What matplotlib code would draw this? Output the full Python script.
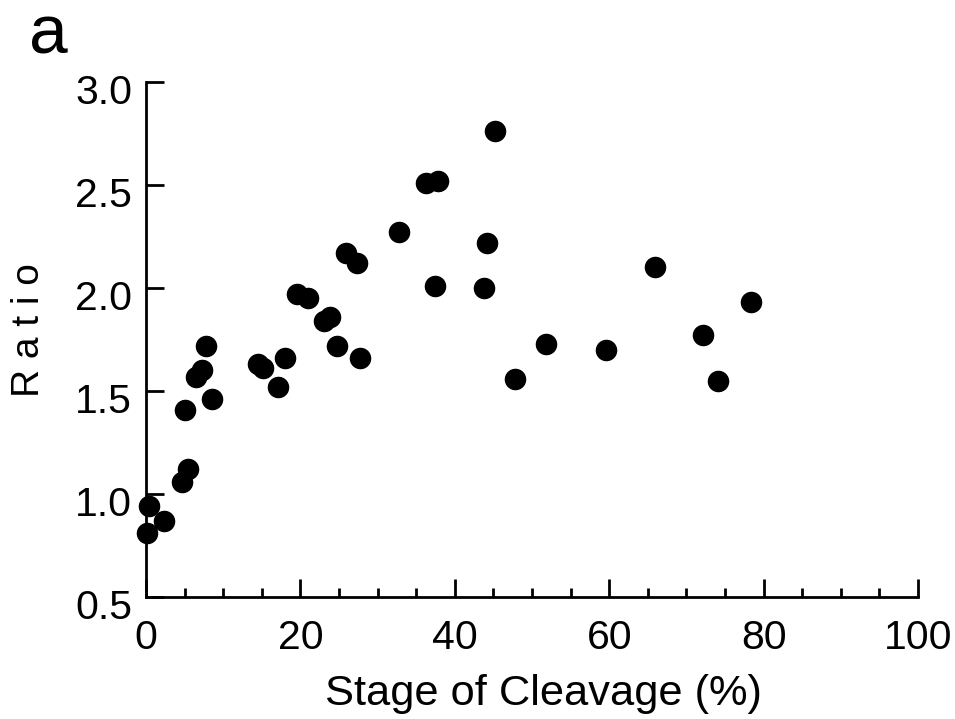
import matplotlib
matplotlib.use("Agg")
import matplotlib.pyplot as plt
import matplotlib.transforms as mtransforms
from matplotlib.ticker import MultipleLocator

plt.rcParams['font.family'] = ['Liberation Sans', 'DejaVu Sans']

stage = [0.1, 0.4, 2.3, 4.6, 5.4, 5.1, 6.5, 7.3, 7.8, 8.5,
         14.5, 15.1, 17.1, 18.0, 19.6, 21.0, 23.0, 23.8, 24.7, 25.9,
         27.3, 27.7, 32.8, 36.3, 37.8, 37.4, 45.2, 44.2, 43.8, 47.8,
         51.8, 59.6, 65.9, 72.2, 74.1, 78.4]
ratio = [0.81, 0.94, 0.87, 1.06, 1.12, 1.41, 1.57, 1.60, 1.72, 1.46,
         1.63, 1.61, 1.52, 1.66, 1.97, 1.95, 1.84, 1.86, 1.72, 2.17,
         2.12, 1.66, 2.27, 2.51, 2.52, 2.01, 2.76, 2.22, 2.00, 1.56,
         1.73, 1.70, 2.10, 1.77, 1.55, 1.93]

xticks = [0, 20, 40, 60, 80, 100]
yticks = [0.5, 1.0, 1.5, 2.0, 2.5, 3.0]

fig = plt.figure(figsize=(9.55, 7.19), dpi=100)
ax = fig.add_axes([146/955, 1-597/719, (918-146)/955, (597-82)/719])

ax.plot(stage, ratio, 'o', color='black', markersize=14.5, linestyle='none', clip_on=False)

ax.set_xlim(0, 100)
ax.set_ylim(0.5, 3.0)
ax.set_xticks(xticks)
ax.set_xticklabels([str(t) for t in xticks])
ax.set_yticks(yticks)
ax.set_yticklabels([f"{t:.1f}" for t in yticks])
ax.xaxis.set_minor_locator(MultipleLocator(5))

for s in ['top', 'right']:
    ax.spines[s].set_visible(False)
for s in ['left', 'bottom']:
    ax.spines[s].set_linewidth(2)

ax.tick_params(axis='both', which='major', direction='in', length=13, width=2,
               labelsize=29.5, pad=10)
ax.tick_params(axis='x', which='major', pad=16)
ax.tick_params(axis='x', which='minor', direction='in', length=6.5, width=2)

# y tick labels sit slightly below their ticks in the reference
offset = mtransforms.ScaledTranslation(0, -7/100, fig.dpi_scale_trans)
for lbl in ax.get_yticklabels():
    lbl.set_transform(lbl.get_transform() + offset)

ax.set_xlabel('Stage of Cleavage (%)', fontsize=31.2, va='baseline')
ax.xaxis.set_label_coords(0.515, -(705-597)/515)
ax.set_ylabel('R a t i o', fontsize=28, va='center', ha='center')
ax.yaxis.set_label_coords((29-146)/772, (597-330)/515)

fig.text(29/955, 1-53/719, 'a', fontsize=50, ha='left', va='baseline')

fig.savefig('out.png', dpi=100)
